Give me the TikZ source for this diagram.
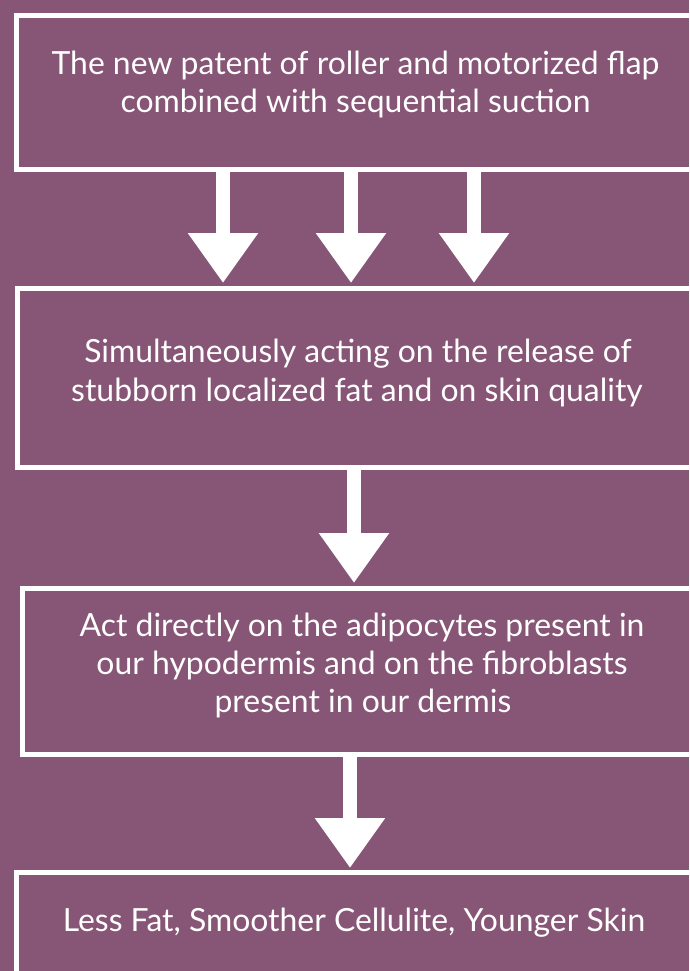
\documentclass[tikz,border=0pt]{standalone}
\usepackage{fontspec}
\setmainfont{Lato}
\usetikzlibrary{arrows.meta}
\definecolor{bgpurple}{RGB}{135,85,117}
\tikzset{
  flowbox/.style={draw=white, line width=5pt, rectangle, inner sep=0pt, anchor=north west},
  linetext/.style={text=white, font=\fontsize{31.9}{38}\selectfont, anchor=base, inner sep=0pt},
  bigarrow/.style={draw=white, line width=14pt, -{Triangle[width=67pt,length=50pt]}}
}
\begin{document}
\begin{tikzpicture}[x=1pt,y=1pt]
\fill[bgpurple] (0,0) rectangle (689,-971);
\useasboundingbox (0,0) rectangle (689,-971);
\clip (0,0) rectangle (689,-971);
% boxes
\node[flowbox, minimum width=700pt, minimum height=153pt] (b1) at (13.5,-13.5) {};
\node[flowbox, minimum width=700pt, minimum height=179pt] (b2) at (14.5,-286) {};
\node[flowbox, minimum width=700pt, minimum height=166pt] (b3) at (20,-586) {};
\node[flowbox, minimum width=700pt, minimum height=150pt] (b4) at (13.5,-870) {};
% texts
\node[linetext] (t1a) at (355.5,-75) {The new patent of roller and motorized flap};
\node[linetext] (t1b) at (355.5,-113) {combined with sequential suction};
\node[linetext] (t2a) at (358,-362) {Simultaneously acting on the release of};
\node[linetext] (t2b) at (357,-401) {stubborn localized fat and on skin quality};
\node[linetext] (t3a) at (362,-636) {Act directly on the adipocytes present in};
\node[linetext] (t3b) at (362,-674) {our hypodermis and on the fibroblasts};
\node[linetext] (t3c) at (363,-712) {present in our dermis};
\node[linetext] (t4a) at (354,-931) {Less Fat, Smoother Cellulite, Younger Skin};
% arrows
\draw[bigarrow] ([xshift=209.5pt]b1.south west) -- ([xshift=209.5pt,yshift=3pt]b1.south west |- b2.north);
\draw[bigarrow] ([xshift=337.5pt]b1.south west) -- ([xshift=337.5pt,yshift=3pt]b1.south west |- b2.north);
\draw[bigarrow] ([xshift=460.5pt]b1.south west) -- ([xshift=460.5pt,yshift=3pt]b1.south west |- b2.north);
\draw[bigarrow] ([xshift=339.5pt]b2.south west) -- ([xshift=339.5pt,yshift=3pt]b2.south west |- b3.north);
\draw[bigarrow] ([xshift=330pt]b3.south west) -- ([xshift=330pt,yshift=2pt]b3.south west |- b4.north);
\end{tikzpicture}
\end{document}
